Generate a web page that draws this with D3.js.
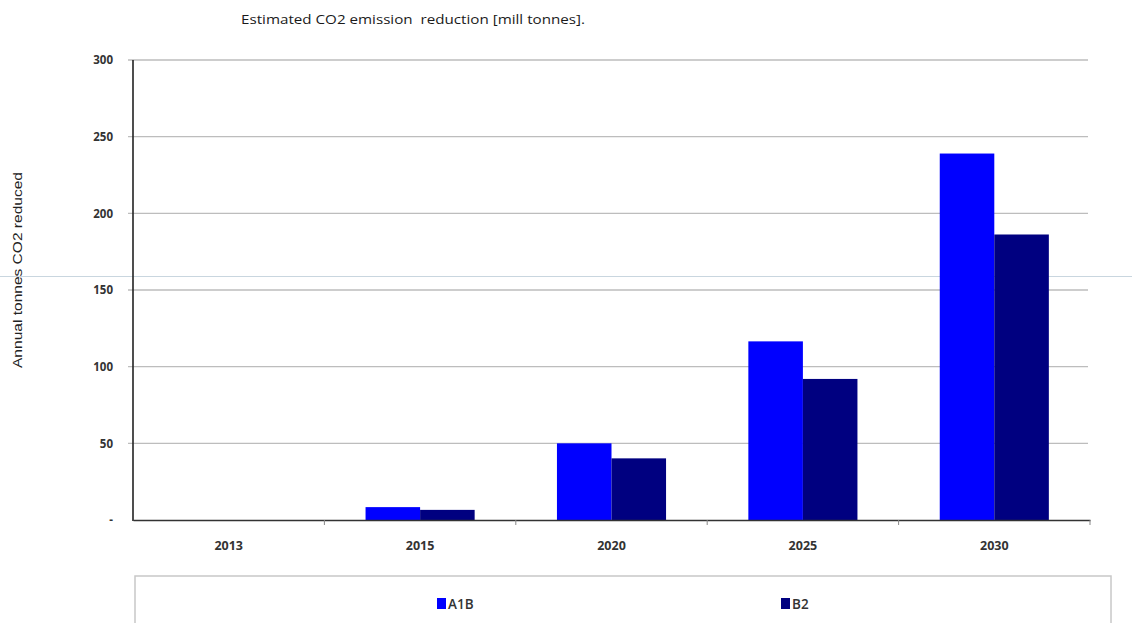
<!DOCTYPE html>
<html>
<head>
<meta charset="utf-8">
<script src="https://cdn.jsdelivr.net/npm/d3@7"></script>
<style>
  html, body { margin: 0; padding: 0; background: #fff; }
  svg { display: block; }
  text { font-family: "Open Sans", "Liberation Sans", sans-serif; fill: #222; }
</style>
</head>
<body>
<svg id="chart" width="1132" height="623"></svg>
<script>
// Estimated CO2 emission reduction per scenario (million tonnes)
const years = ["2013", "2015", "2020", "2025", "2030"];
const seriesNames = ["A1B", "B2"];
const a1bValues = [0, 8.4, 50, 116.5, 239];
const b2Values = [0, 6.6, 40.2, 92, 186.2];
const yTicks = [0, 50, 100, 150, 200, 250, 300];
const seriesColors = ["#0000ff", "#000080"];

const svg = d3.select("#chart");
const margin = { left: 133, right: 42, top: 60, bottom: 103 };
const W = 1132, H = 623;
const plotW = W - margin.left - margin.right;   // 957
const plotH = H - margin.top - margin.bottom;   // 460

const x0 = d3.scaleBand().domain(years).range([margin.left, margin.left + plotW]).padding(0);
const bw = x0.bandwidth();
const gap = bw * 0.215;
const x1 = d3.scaleBand().domain(seriesNames).range([gap, bw - gap]).padding(0);
const y = d3.scaleLinear().domain([0, 300]).range([margin.top + plotH, margin.top]);

const rows = years.map((yr, i) => ({ year: yr, values: [a1bValues[i], b2Values[i]] }));

// title
svg.append("text")
  .attr("x", 241).attr("y", 24)
  .attr("font-size", 12)
  .attr("textLength", 344).attr("lengthAdjust", "spacingAndGlyphs")
  .style("white-space", "pre").style("fill", "#1a1a1a")
  .text("Estimated CO2 emission  reduction [mill tonnes].");

// faint horizontal rule crossing the page (sits behind the bars)
svg.append("line")
  .attr("x1", 0).attr("x2", W)
  .attr("y1", 276.5).attr("y2", 276.5)
  .attr("stroke", "#c9d6df").attr("stroke-width", 1);

// horizontal gridlines
svg.append("g").selectAll("line")
  .data(yTicks.filter(t => t > 0))
  .join("line")
  .attr("x1", margin.left - 5).attr("x2", margin.left + plotW - 2)
  .attr("y1", d => y(d)).attr("y2", d => y(d))
  .attr("stroke", "#bdbdbd").attr("stroke-width", 1.3);

// y axis labels
const yAxis = d3.axisLeft(y).tickValues(yTicks).tickSize(0).tickPadding(20)
  .tickFormat(d => d === 0 ? "-" : d);
const gy = svg.append("g").attr("transform", `translate(${margin.left},0)`).call(yAxis);
gy.select(".domain").remove();
gy.selectAll("text")
  .attr("font-size", 11.5).attr("font-weight", "bold")
  .style("font-family", "'Open Sans', sans-serif").style("fill", "#333");

// bars
const groups = svg.append("g").selectAll("g")
  .data(rows).join("g")
  .attr("transform", d => `translate(${x0(d.year)},0)`);
groups.selectAll("rect")
  .data(d => d.values.map((v, i) => ({ key: seriesNames[i], value: v, i })))
  .join("rect")
  .attr("x", d => x1(d.key))
  .attr("width", x1.bandwidth())
  .attr("y", d => y(d.value))
  .attr("height", d => y(0) - y(d.value))
  .attr("fill", d => seriesColors[d.i]);

// axis lines
svg.append("line")
  .attr("x1", margin.left).attr("x2", margin.left)
  .attr("y1", margin.top).attr("y2", y(0) + 1)
  .attr("stroke", "#222").attr("stroke-width", 1.6);

const xAxis = d3.axisBottom(x0).tickSize(0).tickPadding(21);
const gx = svg.append("g").attr("transform", `translate(0,${y(0)})`).call(xAxis);
gx.select(".domain").attr("stroke", "#333").attr("stroke-width", 1.6);
gx.selectAll("text")
  .attr("font-size", 12.5).attr("font-weight", "bold")
  .style("font-family", "'Open Sans', sans-serif").style("fill", "#333");

// category boundary ticks
const boundaries = years.map(yr => x0(yr)).concat([x0(years[years.length - 1]) + bw]);
svg.append("g").selectAll("line")
  .data(boundaries.slice(1)).join("line")
  .attr("x1", d => d).attr("x2", d => d)
  .attr("y1", y(0)).attr("y2", y(0) + 5)
  .attr("stroke", "#888").attr("stroke-width", 1);

// y axis title
svg.append("text")
  .attr("transform", "translate(22,270) rotate(-90)")
  .attr("text-anchor", "middle")
  .attr("font-size", 12.5)
  .attr("textLength", 196).attr("lengthAdjust", "spacingAndGlyphs")
  .style("font-family", "'Liberation Sans', Arial, sans-serif")
  .text("Annual tonnes CO2 reduced");

// legend
svg.append("rect")
  .attr("x", 135).attr("y", 576)
  .attr("width", 976).attr("height", 60)
  .attr("fill", "none").attr("stroke", "#c8c8c8").attr("stroke-width", 1.5);

const legendX = [437, 781];
const lg = svg.append("g").selectAll("g")
  .data(seriesNames).join("g")
  .attr("transform", (d, i) => `translate(${legendX[i]},598)`);
lg.append("rect")
  .attr("width", 9).attr("height", 11)
  .attr("fill", (d, i) => seriesColors[i]);
lg.append("text")
  .attr("x", 11).attr("y", 10.5)
  .attr("font-size", 13.5).attr("font-weight", "600")
  .style("fill", "#333")
  .text(d => d);
</script>
</body>
</html>
